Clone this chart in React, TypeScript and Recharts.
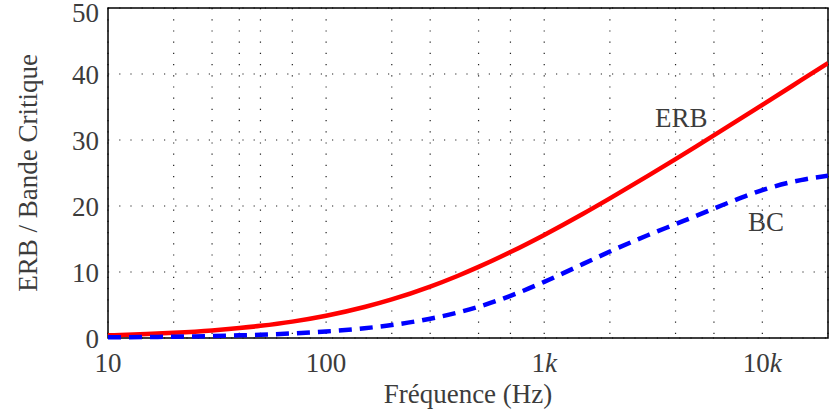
import React from 'react';
import {
  LineChart,
  Line,
  XAxis,
  YAxis,
  CartesianGrid,
  ReferenceArea,
  ReferenceDot,
  Label,
} from 'recharts';

// frequencies (Hz)
const freqs = [
  10, 15, 20, 30, 40, 50, 70, 100, 150, 200, 300, 400, 500, 700, 1000, 1500,
  2000, 3000, 4000, 5000, 7000, 10000, 15000, 20000,
];
const erbValues = [
  0.4, 0.59, 0.78, 1.14, 1.5, 1.84, 2.48, 3.37, 4.69, 5.84, 7.79, 9.4, 10.77,
  13.02, 15.62, 18.79, 21.16, 24.6, 27.11, 29.08, 32.09, 35.32, 39.02, 41.65,
];
const bcValues = [
  0.1, 0.15, 0.2, 0.3, 0.4, 0.49, 0.69, 0.99, 1.48, 1.96, 2.92, 3.85, 4.73,
  6.39, 8.51, 11.19, 13.1, 15.61, 17.26, 18.54, 20.51, 22.42, 23.92, 24.58,
];

const xTicks = [
  10, 20, 30, 40, 50, 60, 70, 80, 90, 100, 200, 300, 400, 500, 600, 700, 800,
  900, 1000, 2000, 3000, 4000, 5000, 6000, 7000, 8000, 9000, 10000, 20000,
];
const xLabels: Record<number, [string, string]> = {
  10: ['10', ''],
  100: ['100', ''],
  1000: ['1', 'k'],
  10000: ['10', 'k'],
};
const yTicks = [0, 10, 20, 30, 40, 50];

const annotations = [
  { name: 'ERB', f: 4250, v: 33.3 },
  { name: 'BC', f: 10400, v: 17.6 },
];

const data = freqs.map((f, i) => ({ f, erb: erbValues[i], bc: bcValues[i] }));

const FONT = 'Liberation Serif';
const TEXT = '#3c3c3c';
const FS = 27;
const txt: React.CSSProperties = {
  fontFamily: '"Liberation Serif", serif',
  fontSize: FS,
  fill: TEXT,
};

function XTick(props: any) {
  const { x, payload } = props;
  const lab = xLabels[payload.value];
  if (!lab) return null;
  return (
    <text x={x} y={372} textAnchor='middle' fontFamily={FONT} fontSize={FS} style={txt}>
      {lab[0]}
      {lab[1] && <tspan style={{ fontStyle: 'italic' }}>{lab[1]}</tspan>}
    </text>
  );
}

function YTick(props: any) {
  const { y, payload } = props;
  // top label sits a little lower so it is not clipped by the page edge
  const dy = payload.value === 50 ? 13 : 10;
  return (
    <text x={99} y={y + dy} textAnchor='end' fontFamily={FONT} fontSize={FS} style={txt}>
      {payload.value}
    </text>
  );
}

export default function App() {
  return (
    <div
      style={{
        position: 'absolute',
        left: 0,
        top: 0,
        background: '#fff',
        fontFamily: '"Liberation Serif", serif',
      }}
    >
      <LineChart
        width={832}
        height={410}
        data={data}
        margin={{ top: 8, right: 4, bottom: 0, left: 0 }}
      >
        <CartesianGrid stroke='#222' strokeWidth={1.2} strokeDasharray='1.2 10' />
        <XAxis
          dataKey='f'
          type='number'
          scale='log'
          domain={[10, 20000]}
          ticks={xTicks}
          tick={<XTick />}
          tickLine={false}
          axisLine={false}
          height={72}
          allowDataOverflow
        >
          <Label
            content={({ viewBox }: any) => (
              <text
                x={viewBox.x + viewBox.width / 2}
                y={403}
                textAnchor='middle'
                fontFamily={FONT}
                fontSize={FS}
                style={txt}
              >
                Fréquence (Hz)
              </text>
            )}
          />
        </XAxis>
        <YAxis
          type='number'
          domain={[0, 50]}
          ticks={yTicks}
          width={108}
          tickLine={false}
          axisLine={false}
          tick={<YTick />}
        >
          <Label
            content={({ viewBox }: any) => {
              const cx = 37;
              const cy = viewBox.y + viewBox.height / 2;
              return (
                <text
                  x={cx}
                  y={cy}
                  transform={`rotate(-90 ${cx} ${cy})`}
                  textAnchor='middle'
                  fontFamily={FONT}
                  fontSize={FS}
                  style={txt}
                >
                  ERB / Bande Critique
                </text>
              );
            }}
          />
        </YAxis>
        <Line
          dataKey='erb'
          type='monotone'
          stroke='#ff0000'
          strokeWidth={4.5}
          dot={false}
          isAnimationActive={false}
        />
        <Line
          dataKey='bc'
          type='monotone'
          stroke='#0000ff'
          strokeWidth={4.5}
          strokeDasharray='13 8'
          dot={false}
          isAnimationActive={false}
        />
        <ReferenceArea
          x1={10}
          x2={20000}
          y1={0}
          y2={50}
          fill='none'
          stroke='#000'
          strokeWidth={1.5}
          fillOpacity={0}
        />
        {annotations.map((a) => (
          <ReferenceDot
            key={a.name}
            x={a.f}
            y={a.v}
            r={0}
            shape={(p: any) => (
              <text
                x={p.cx}
                y={p.cy + 9}
                textAnchor='middle'
                fontFamily={FONT}
                fontSize={FS}
                style={txt}
              >
                {a.name}
              </text>
            )}
          />
        ))}
      </LineChart>
    </div>
  );
}
